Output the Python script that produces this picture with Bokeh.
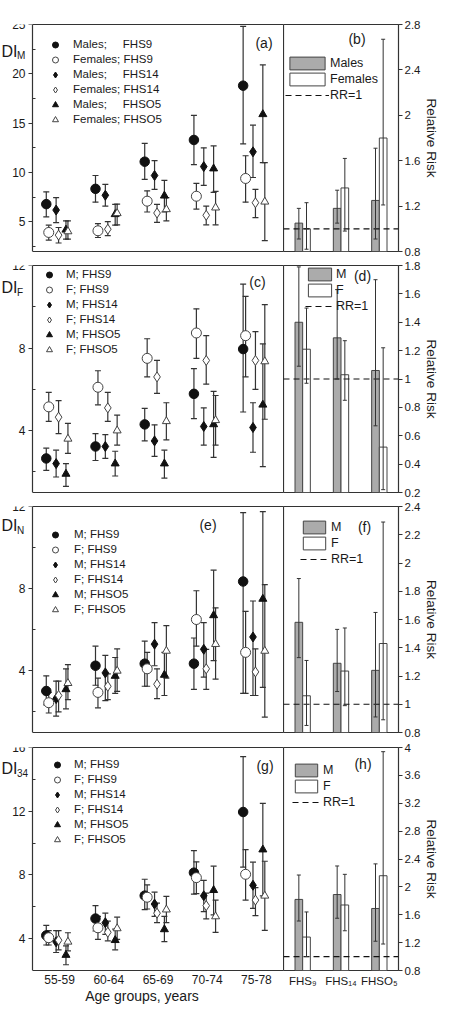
from bokeh.plotting import figure
from bokeh.models import (ColumnDataSource, Whisker, TeeHead, FixedTicker, Legend,
                          LegendItem, Label, Range1d, LinearAxis)
from bokeh.layouts import column, row
from bokeh.embed import file_html
from bokeh.resources import INLINE

FONT = "Liberation Sans"

# ---------------- data ----------------
age_groups = ["55-59", "60-64", "65-69", "70-74", "75-78"]
cohorts = ["FHS\u2089", "FHS\u2081\u2084", "FHSO\u2085"]
series = ["M9", "F9", "M14", "F14", "M05", "F05"]

# Panel (a) DI_M
a_val = {"M9": [6.8, 8.35, 11.1, 13.3, 18.8], "F9": [3.93, 4.1, 7.1, 7.6, 9.4],
         "M14": [6.2, 7.7, 9.7, 10.6, 12.1], "F14": [3.66, 4.26, 5.9, 5.67, 6.94],
         "M05": [4.2, 5.77, 7.65, 10.4, 15.9], "F05": [4.03, 5.87, 6.27, 6.44, 7.04]}
a_lo = {"M9": [5.5, 7.0, 9.3, 10.8, 12.9], "F9": [3.16, 3.42, 6.0, 6.3, 7.0],
        "M14": [4.93, 6.6, 8.3, 8.7, 9.5], "F14": [2.86, 3.6, 4.95, 4.7, 5.43],
        "M05": [3.26, 4.67, 6.0, 8.0, 11.0], "F05": [3.26, 4.7, 5.1, 4.7, 3.1]}
a_hi = {"M9": [8.05, 9.7, 12.95, 15.8, 24.8], "F9": [4.67, 4.83, 8.15, 8.9, 11.7],
        "M14": [7.45, 8.8, 11.2, 12.5, 14.8], "F14": [4.43, 5.03, 6.78, 6.6, 8.3],
        "M05": [5.1, 6.78, 9.2, 12.7, 20.9], "F05": [5.1, 6.8, 7.45, 8.1, 11.0]}

# Panel (c) DI_F
c_val = {"M9": [2.65, 3.23, 4.3, 5.78, 7.95], "F9": [5.15, 6.1, 7.5, 8.73, 8.6],
         "M14": [2.4, 3.23, 3.5, 4.2, 4.15], "F14": [4.65, 5.1, 6.6, 7.4, 7.4],
         "M05": [1.9, 2.4, 2.4, 4.3, 5.25], "F05": [3.6, 4.0, 4.45, 4.5, 7.35]}
c_lo = {"M9": [2.07, 2.55, 3.5, 4.58, 4.9], "F9": [4.45, 5.25, 6.6, 7.5, 6.6],
        "M14": [1.75, 2.65, 2.75, 3.3, 2.95], "F14": [3.85, 4.45, 5.8, 6.25, 6.0],
        "M05": [1.3, 1.8, 1.7, 2.7, 2.25], "F05": [2.9, 3.3, 3.55, 3.3, 4.55]}
c_hi = {"M9": [3.15, 3.85, 5.08, 7.0, 11.1], "F9": [5.85, 6.9, 8.45, 9.9, 10.5],
        "M14": [3.05, 3.8, 4.28, 5.1, 5.35], "F14": [5.45, 5.85, 7.4, 8.6, 8.8],
        "M05": [2.4, 3.0, 3.05, 5.9, 8.2], "F05": [4.35, 4.75, 5.35, 5.7, 10.1]}

# Panel (e) DI_N
e_val = {"M9": [3.02, 4.25, 4.35, 4.35, 8.35], "F9": [2.45, 2.95, 4.1, 6.5, 4.9],
         "M14": [2.65, 3.9, 5.3, 5.05, 5.65], "F14": [2.8, 3.25, 3.35, 4.1, 3.95],
         "M05": [3.1, 3.75, 3.8, 6.7, 7.5], "F05": [3.4, 4.0, 4.97, 5.3, 4.97]}
e_lo = {"M9": [2.34, 3.3, 3.25, 3.1, 2.9], "F9": [1.95, 2.2, 3.25, 5.2, 2.9],
        "M14": [1.8, 2.55, 4.25, 3.7, 2.8], "F14": [2.0, 2.6, 2.65, 3.1, 2.8],
        "M05": [2.15, 2.9, 2.8, 4.5, 3.2], "F05": [2.6, 3.0, 3.65, 3.6, 1.75]}
e_hi = {"M9": [3.76, 5.2, 5.45, 5.6, 11.7], "F9": [2.95, 3.65, 4.9, 7.9, 6.9],
        "M14": [3.5, 4.75, 6.35, 6.35, 7.4], "F14": [3.5, 3.85, 4.1, 5.05, 5.07],
        "M05": [4.1, 4.65, 4.9, 8.9, 11.75], "F05": [4.3, 5.07, 6.2, 7.07, 8.2]}

# Panel (g) DI_34
g_val = {"M9": [4.2, 5.26, 6.7, 8.14, 11.95], "F9": [4.06, 4.68, 6.6, 7.83, 8.04],
         "M14": [3.8, 5.0, 6.17, 6.69, 7.35], "F14": [3.9, 4.4, 5.6, 6.07, 6.42],
         "M05": [2.97, 3.9, 4.58, 7.04, 9.59], "F05": [3.8, 4.64, 5.82, 5.39, 6.69]}
g_lo = {"M9": [3.6, 4.48, 5.82, 6.8, 8.49], "F9": [3.6, 3.96, 5.86, 6.82, 6.42],
        "M14": [3.13, 4.27, 5.4, 5.7, 5.9], "F14": [3.3, 3.86, 5.0, 5.24, 5.45],
        "M05": [2.36, 3.3, 3.81, 5.49, 6.69], "F05": [3.23, 3.96, 5.0, 4.39, 4.52]}
g_hi = {"M9": [4.83, 6.07, 7.73, 9.53, 15.43], "F9": [4.5, 5.4, 7.37, 8.82, 9.59],
        "M14": [4.5, 5.6, 6.92, 7.66, 8.8], "F14": [4.5, 5.1, 6.23, 6.86, 7.2],
        "M05": [3.55, 4.6, 5.4, 8.55, 12.49], "F05": [4.37, 5.35, 6.65, 6.42, 8.86]}

# Relative risk bars (b, d, f, h): males / females, value, low, high
b_M = [1.05, 1.18, 1.25]; b_M_lo = [0.91, 1.05, 0.91]; b_M_hi = [1.18, 1.34, 1.71]
b_F = [1.00, 1.36, 1.80]; b_F_lo = [0.82, 0.98, 1.21]; b_F_hi = [1.23, 1.62, 2.67]
d_M = [1.40, 1.29, 1.06]; d_M_lo = [1.09, 1.00, 0.67]; d_M_hi = [1.79, 1.63, 1.70]
d_F = [1.21, 1.03, 0.52]; d_F_lo = [0.97, 0.85, 0.22]; d_F_hi = [1.50, 1.27, 1.22]
f_M = [1.58, 1.29, 1.24]; f_M_lo = [1.33, 1.09, 0.91]; f_M_hi = [1.89, 1.53, 1.65]
f_F = [1.06, 1.235, 1.43]; f_F_lo = [0.85, 0.99, 0.89]; f_F_hi = [1.31, 1.54, 2.29]
h_M = [1.82, 1.89, 1.69]; h_M_lo = [1.51, 1.55, 1.22]; h_M_hi = [2.17, 2.30, 2.33]
h_F = [1.28, 1.74, 2.16]; h_F_lo = [1.00, 1.37, 1.18]; h_F_hi = [1.64, 2.18, 3.94]

legend_long = ["Males;\u00a0\u00a0\u00a0\u00a0\u00a0FHS9", "Females; FHS9",
               "Males;\u00a0\u00a0\u00a0\u00a0\u00a0FHS14", "Females; FHS14",
               "Males;\u00a0\u00a0\u00a0\u00a0\u00a0FHSO5", "Females; FHSO5"]
legend_short = ["M; FHS9", "F; FHS9", "M; FHS14", "F; FHS14", "M; FHSO5", "F; FHSO5"]

# ---------------- styles ----------------
offsets = {"M9": -0.27, "F9": -0.22, "M14": -0.07, "F14": -0.02, "M05": 0.13, "F05": 0.17}
mstyle = {
    "M9": dict(marker="circle", size=9.5, fill_color="#111111", line_color="#111111"),
    "F9": dict(marker="circle", size=10, fill_color="white", line_color="#444444"),
    "M14": dict(marker="diamond", size=10, fill_color="#111111", line_color="#111111"),
    "F14": dict(marker="diamond", size=10, fill_color="white", line_color="#444444"),
    "M05": dict(marker="triangle", size=8, fill_color="#111111", line_color="#111111"),
    "F05": dict(marker="triangle", size=8, fill_color="white", line_color="#444444"),
}
TXT = "#1a1a1a"
LINE = "#333333"
BOX = (0.45, 5.55)          # plotted x extent of the left panels
LEFT_W = 283                 # canvas width of the left figures
LEFT_MARGIN = 32             # px between canvas edge and the plot box
X0 = BOX[0] - LEFT_MARGIN * (BOX[1] - BOX[0]) / (LEFT_W - LEFT_MARGIN)
RIGHT_W = 159


def add_text(p, x, y, dx, dy, text, size, align="left"):
    p.add_layout(Label(x=x, y=y, x_offset=dx, y_offset=dy, text=text,
                       text_font=FONT, text_font_size=size, text_color=TXT,
                       text_align=align, text_baseline="middle"))


def box_axis(ax, bounds):
    ax.bounds = bounds
    ax.axis_line_color = LINE
    ax.axis_line_width = 1.2
    ax.major_tick_out = 0
    ax.major_tick_in = 0
    ax.minor_tick_out = 0
    ax.minor_tick_in = 0
    ax.major_label_text_font = FONT
    ax.major_label_text_font_size = "12px"
    ax.major_label_text_color = TXT
    ax.major_label_standoff = 4


def scatter_panel(val, lo, hi, labels, yr, ticks, minor, height, btop, bbottom,
                  leg_x0, leg_top, leg_standoff, di_sub, di_dy, letter, letter_off,
                  bottom=False):
    frame_h = height - btop - bbottom
    p = figure(width=LEFT_W, height=height, x_range=Range1d(X0, BOX[1]),
               y_range=Range1d(*yr), output_backend="svg", toolbar_location=None,
               min_border_left=0, min_border_right=0,
               min_border_top=btop, min_border_bottom=bbottom)
    p.outline_line_color = None
    p.grid.visible = False
    p.background_fill_color = "white"
    p.border_fill_color = "white"

    ax = p.yaxis[0]
    ax.fixed_location = BOX[0]
    ax.ticker = FixedTicker(ticks=ticks, minor_ticks=minor)
    ax.axis_line_color = LINE
    ax.axis_line_width = 1.2
    ax.major_tick_out = 4
    ax.major_tick_in = 0
    ax.minor_tick_in = 3
    ax.minor_tick_out = 0
    ax.major_tick_line_color = LINE
    ax.minor_tick_line_color = LINE
    ax.major_label_text_font = FONT
    ax.major_label_text_font_size = "12px"
    ax.major_label_text_color = TXT
    ax.major_label_standoff = 3

    bx = p.xaxis[0]
    box_axis(bx, BOX)
    if bottom:
        bx.ticker = FixedTicker(ticks=[1, 2, 3, 4, 5], minor_ticks=[])
        bx.major_label_overrides = {i + 1: g for i, g in enumerate(age_groups)}
        bx.axis_label = "Age groups, years"
        bx.axis_label_text_font = FONT
        bx.axis_label_text_font_size = "14px"
        bx.axis_label_text_font_style = "normal"
        bx.axis_label_text_color = TXT
        bx.axis_label_standoff = 1
    else:
        bx.ticker = FixedTicker(ticks=[], minor_ticks=[])
    top_ax = LinearAxis(ticker=FixedTicker(ticks=[], minor_ticks=[]))
    box_axis(top_ax, BOX)
    p.add_layout(top_ax, "above")

    items = []
    for key, lab in zip(series, labels):
        xs = [i + 1 + offsets[key] for i in range(5)]
        src = ColumnDataSource(dict(x=xs, y=val[key], lo=lo[key], hi=hi[key]))
        w = Whisker(source=src, base="x", upper="hi", lower="lo",
                    line_color=LINE, line_width=1.2,
                    upper_head=TeeHead(size=6, line_color=LINE, line_width=1.2),
                    lower_head=TeeHead(size=6, line_color=LINE, line_width=1.2))
        p.add_layout(w)
        st = mstyle[key]
        r = p.scatter(x="x", y="y", source=src, marker=st["marker"], size=st["size"],
                      fill_color=st["fill_color"], line_color=st["line_color"],
                      line_width=1)
        items.append(LegendItem(label=lab, renderers=[r]))
    leg_h = 6 * 15
    leg = Legend(items=items, location=(LEFT_MARGIN + leg_x0, frame_h - leg_top - leg_h),
                 glyph_width=20, glyph_height=15, label_height=15, spacing=0,
                 padding=0, margin=0, label_standoff=leg_standoff,
                 label_text_font=FONT, label_text_font_size="11.5px",
                 label_text_color=TXT, border_line_color=None,
                 background_fill_alpha=0)
    p.add_layout(leg)
    # y label DI_x (to the left of the plot box)
    add_text(p, BOX[0], yr[1], -31, -di_dy, "DI", "16px")
    add_text(p, BOX[0], yr[1], -15.5, -(di_dy + 4.5), di_sub, "10px")
    add_text(p, BOX[1], yr[1], letter_off[0], -letter_off[1], letter, "14px", "center")
    return p


def bar_panel(M, Ml, Mh, F, Fl, Fh, yr, ticks, height, btop, bbottom, leg_labels,
              leg_x0, leg_top, glyph_w, leg_standoff, letter, letter_off, bottom=False):
    frame_h = height - btop - bbottom
    p = figure(width=RIGHT_W, height=height, x_range=Range1d(0.5, 3.5),
               y_range=Range1d(*yr), output_backend="svg", toolbar_location=None,
               x_axis_location="below" if bottom else None, y_axis_location="right",
               min_border_left=0, min_border_right=44,
               min_border_top=btop, min_border_bottom=bbottom)
    p.outline_line_color = LINE
    p.outline_line_width = 1.2
    p.grid.visible = False
    p.background_fill_color = "white"
    p.border_fill_color = "white"
    ax = p.yaxis[0]
    ax.ticker = FixedTicker(ticks=ticks, minor_ticks=[])
    ax.major_label_overrides = {t: f"{t:g}" for t in ticks}
    ax.axis_line_color = None
    ax.major_tick_out = 4
    ax.major_tick_in = 0
    ax.minor_tick_out = 0
    ax.minor_tick_in = 0
    ax.major_tick_line_color = LINE
    ax.major_label_text_font = FONT
    ax.major_label_text_font_size = "11.5px"
    ax.major_label_text_color = TXT
    ax.major_label_standoff = 2
    ax.axis_label = "Relative Risk"
    ax.axis_label_text_font = FONT
    ax.axis_label_text_font_size = "13.5px"
    ax.axis_label_text_font_style = "normal"
    ax.axis_label_text_color = TXT
    ax.axis_label_standoff = 1
    if bottom:
        bx = p.xaxis[0]
        bx.ticker = FixedTicker(ticks=[1, 2, 3], minor_ticks=[])
        bx.major_label_overrides = {i + 1: c for i, c in enumerate(cohorts)}
        bx.axis_line_color = None
        bx.major_tick_out = 0
        bx.major_tick_in = 0
        bx.minor_tick_out = 0
        bx.minor_tick_in = 0
        bx.major_label_text_font = FONT
        bx.major_label_text_font_size = "11.5px"
        bx.major_label_text_color = TXT
        bx.major_label_standoff = 4

    xs = [1, 2, 3]
    srcM = ColumnDataSource(dict(x=[x - 0.1 for x in xs], top=M, lo=Ml, hi=Mh))
    srcF = ColumnDataSource(dict(x=[x + 0.1 for x in xs], top=F, lo=Fl, hi=Fh))
    rM = p.vbar(x="x", top="top", bottom=yr[0], width=0.2, source=srcM,
                fill_color="#ababab", line_color="#444444", line_width=1)
    rF = p.vbar(x="x", top="top", bottom=yr[0], width=0.2, source=srcF,
                fill_color="white", line_color="#444444", line_width=1)
    for src in (srcM, srcF):
        p.add_layout(Whisker(source=src, base="x", upper="hi", lower="lo", level="overlay",
                             line_color=LINE, line_width=1,
                             upper_head=TeeHead(size=4, line_color=LINE, line_width=1),
                             lower_head=TeeHead(size=4, line_color=LINE, line_width=1)))
    rl = p.line(x=[0.5, 3.5], y=[1, 1], line_dash="6 4", line_color="#111111", line_width=1.2)
    items = [LegendItem(label=leg_labels[0], renderers=[rM]),
             LegendItem(label=leg_labels[1], renderers=[rF]),
             LegendItem(label="RR=1", renderers=[rl])]
    leg = Legend(items=items, location=(leg_x0, frame_h - leg_top - 48),
                 glyph_width=glyph_w, glyph_height=16, label_height=16, spacing=0,
                 padding=0, margin=0, label_standoff=leg_standoff,
                 label_text_font=FONT, label_text_font_size="12.5px",
                 label_text_color=TXT, border_line_color=None,
                 background_fill_alpha=0)
    p.add_layout(leg)
    add_text(p, 3.5, yr[1], letter_off[0], -letter_off[1], letter, "14px", "center")
    return p


# row heights = top border + frame + bottom border
pa = scatter_panel(a_val, a_lo, a_hi, legend_long, (2, 25), [5, 10, 15, 20, 25],
                   [2.5, 7.5, 12.5, 17.5, 22.5], 258, 24, 7, 13, 12.5, 8, "M", 26.5,
                   "(a)", (-19.5, 18))
pb = bar_panel(b_M, b_M_lo, b_M_hi, b_F, b_F_lo, b_F_hi, (0.8, 2.8),
               [0.8, 1.2, 1.6, 2.0, 2.4, 2.8], 258, 24, 7, ["Males", "Females"],
               2, 30.5, 44, 1, "(b)", (-41.5, 14))

pc = scatter_panel(c_val, c_lo, c_hi, legend_short, (1, 12), [4, 8, 12], [2, 6, 10],
                   241, 7, 7, 7, 1.5, 7, "F", 22, "(c)", (-26, 16))
pd = bar_panel(d_M, d_M_lo, d_M_hi, d_F, d_F_lo, d_F_hi, (0.2, 1.8),
               [0.2, 0.4, 0.6, 0.8, 1.0, 1.2, 1.4, 1.6, 1.8], 241, 7, 7, ["M", "F"],
               22, 0.5, 29, 2, "(d)", (-36, 10))

pe = scatter_panel(e_val, e_lo, e_hi, legend_short, (1, 12), [4, 8, 12], [2, 6, 10],
                   240, 7, 7, 13, 20.5, 9, "N", 19, "(e)", (-75.5, 18))
pf = bar_panel(f_M, f_M_lo, f_M_hi, f_F, f_F_lo, f_F_hi, (0.8, 2.4),
               [0.8, 1.0, 1.2, 1.4, 1.6, 1.8, 2.0, 2.2, 2.4], 240, 7, 7, ["M", "F"],
               17, 12.5, 28, 3, "(f)", (-34, 20))

pg = scatter_panel(g_val, g_lo, g_hi, legend_short, (2, 16), [4, 8, 12, 16], [6, 10, 14],
                   267, 8, 34, 15, 11.5, 7, "34", 20.5, "(g)", (-18.5, 18), bottom=True)
ph = bar_panel(h_M, h_M_lo, h_M_hi, h_F, h_F_lo, h_F_hi, (0.8, 4.0),
               [0.8, 1.2, 1.6, 2.0, 2.4, 2.8, 3.2, 3.6, 4.0], 267, 8, 34, ["M", "F"],
               9, 16.5, 28, 3, "(h)", (-35.5, 16), bottom=True)

layout = column(row(pa, pb), row(pc, pd), row(pe, pf), row(pg, ph))
open("out.html", "w").write(file_html(layout, INLINE))
